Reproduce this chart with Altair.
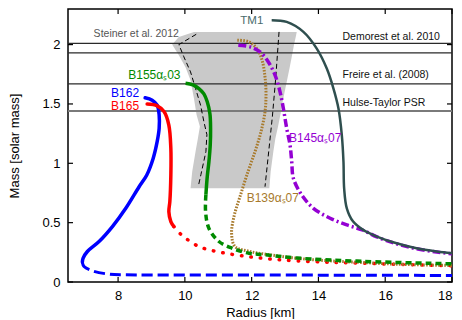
import altair as alt
import pandas as pd

FONT = "Liberation Sans"

# ---------------- data (radius km, mass solar) ----------------
tm1_r = [12.60, 13.05, 13.55, 13.95, 14.25, 14.45, 14.60, 14.70, 14.75, 14.77, 14.85, 15.04, 15.34, 15.75, 16.34, 16.94, 17.54, 18.0]
tm1_m = [2.205, 2.191, 2.107, 1.966, 1.798, 1.630, 1.462, 1.238, 1.013, 0.789, 0.621, 0.509, 0.439, 0.383, 0.326, 0.284, 0.257, 0.242]

b145_r = [11.60, 11.95, 12.25, 12.50, 12.70, 12.85, 12.95, 13.05, 13.15, 13.20, 13.25, 13.50, 13.85, 14.35, 14.85, 15.34, 15.75, 16.34, 16.94, 17.54, 18.0]
b145_m = [1.995, 1.981, 1.939, 1.854, 1.743, 1.602, 1.462, 1.294, 1.154, 1.013, 0.873, 0.733, 0.621, 0.537, 0.481, 0.436, 0.380, 0.322, 0.280, 0.253, 0.238]

b139_r = [11.57, 11.92, 12.16, 12.31, 12.40, 12.43, 12.40, 12.28, 12.10, 11.89, 11.65, 11.47, 11.40, 11.50, 11.95, 12.55, 13.35, 14.35, 15.34, 16.34, 18.0]
b139_m = [2.037, 2.023, 1.964, 1.871, 1.728, 1.577, 1.434, 1.266, 1.098, 0.929, 0.719, 0.551, 0.408, 0.299, 0.257, 0.229, 0.200, 0.178, 0.164, 0.150, 0.139]

b155_solid_r = [10.02, 10.24, 10.42, 10.57, 10.67, 10.75, 10.77, 10.76, 10.72, 10.67, 10.63]
b155_solid_m = [1.674, 1.661, 1.630, 1.585, 1.518, 1.417, 1.294, 1.154, 1.013, 0.887, 0.736]
b155_dash_r = [10.63, 10.62, 10.72, 11.02, 11.42, 11.92, 12.35, 13.35, 15.34, 18.0]
b155_dash_m = [0.736, 0.593, 0.452, 0.341, 0.284, 0.242, 0.231, 0.202, 0.174, 0.153]

b162_solid_r = [8.81, 9.02, 9.17, 9.23, 9.23, 9.17, 9.05, 8.86, 8.63, 8.23, 7.83, 7.43, 7.08, 6.95, 6.93]
b162_solid_m = [1.552, 1.532, 1.490, 1.406, 1.294, 1.182, 1.041, 0.902, 0.803, 0.621, 0.467, 0.341, 0.257, 0.200, 0.167]
b162_dash_r = [6.93, 6.98, 7.23, 7.73, 8.23, 12.22, 18.0]
b162_dash_m = [0.167, 0.130, 0.094, 0.066, 0.061, 0.059, 0.055]

b165_solid_r = [8.87, 9.17, 9.38, 9.52, 9.58, 9.58, 9.55, 9.52, 9.58, 9.67]
b165_solid_m = [1.499, 1.484, 1.434, 1.322, 1.125, 0.902, 0.677, 0.593, 0.509, 0.467]
b165_dot_r = [9.67, 9.88, 10.32, 10.62, 11.22, 12.12, 13.35, 15.34, 18.0]
b165_dot_m = [0.467, 0.402, 0.313, 0.279, 0.242, 0.206, 0.178, 0.158, 0.136]

# Steiner et al. 2012 band
steiner_m = [2.107, 2.065, 2.0, 1.91, 1.81, 1.70, 1.55, 1.41, 1.31, 1.21, 1.10, 0.93, 0.79]
steiner_lo = [10.27, 9.82, 9.62, 9.82, 10.02, 10.17, 10.27, 10.35, 10.45, 10.39, 10.32, 10.22, 10.17]
steiner_hi = [13.35, 13.32, 13.27, 13.21, 13.14, 13.06, 12.95, 12.86, 12.79, 12.71, 12.65, 12.57, 12.53]
steiner_left_r = [10.34, 9.82, 9.97, 10.17, 10.32, 10.47, 10.57, 10.66, 10.63, 10.48, 10.40]
steiner_left_m = [2.087, 2.000, 1.897, 1.770, 1.630, 1.490, 1.350, 1.241, 1.098, 0.904, 0.803]
steiner_right_r = [12.82, 12.72, 12.62, 12.40]
steiner_right_m = [2.107, 1.714, 1.392, 0.803]

# observational mass lines
obs_masses = [2.01, 1.93, 1.67]
hulse_mass = [1.4414]

# tick values
x_ticks = [8, 10, 12, 14, 16, 18]
y_ticks = [0, 0.5, 1, 1.5, 2]

# labels
obs_text = ["Demorest et al. 2010", "Freire et al. (2008)", "Hulse-Taylor PSR"]
obs_text_r = [14.72, 14.72, 14.72]
obs_text_m = [2.065, 1.743, 1.512]

# ---------------- chart ----------------
W, H = 384, 273
xs = alt.Scale(domain=[6.5, 18], nice=False, zero=False)
ys = alt.Scale(domain=[0, 2.3], nice=False, zero=False)
xaxis = alt.Axis(values=x_ticks, title="Radius [km]", ticks=False, tickSize=0, domain=False,
                 grid=False, labelPadding=7, titlePadding=4, format="d")
yaxis = alt.Axis(values=y_ticks, title="Mass [solar mass]", ticks=False, tickSize=0, domain=False,
                 grid=False, labelPadding=8, titlePadding=20, format="~g")
X = alt.X("r:Q", scale=xs, axis=xaxis)
Y = alt.Y("m:Q", scale=ys, axis=yaxis)


def line(r, m, color, width, dash=None, cap="butt", interp="catmull-rom"):
    df = pd.DataFrame({"r": r, "m": m, "i": list(range(len(r)))})
    kw = dict(color=color, strokeWidth=width, strokeCap=cap, strokeJoin="round", clip=True,
              interpolate=interp)
    if dash:
        kw["strokeDash"] = dash
    return alt.Chart(df).mark_line(**kw).encode(x=X, y=Y, order="i:Q")


def label(text, r, m, color, size, align):
    df = pd.DataFrame({"r": [r], "m": [m], "t": [text]})
    return alt.Chart(df).mark_text(color=color, fontSize=size, align=align, baseline="middle",
                                   font=FONT).encode(x=X, y=Y, text="t:N")


band_df = pd.DataFrame({"m": steiner_m, "r": steiner_lo, "hi": steiner_hi})
band = alt.Chart(band_df).mark_area(orient="horizontal", color="#c9c9c9", opacity=1).encode(
    y=Y, x=X, x2="hi:Q")

obs_lines = alt.Chart(pd.DataFrame({"m": obs_masses})).mark_rule(color="#2a2a2a", strokeWidth=1.3).encode(y=Y)
hulse_line = alt.Chart(pd.DataFrame({"m": hulse_mass})).mark_rule(color="#7a7a7a", strokeWidth=2).encode(y=Y)

obs_labels = alt.Chart(pd.DataFrame({"r": obs_text_r, "m": obs_text_m, "t": obs_text})).mark_text(
    color="#111", fontSize=10.5, align="left", baseline="middle", font=FONT).encode(x=X, y=Y, text="t:N")

xt = pd.DataFrame({"r": x_ticks})
yt = pd.DataFrame({"m": y_ticks})
tick_style = dict(color="black", strokeWidth=1.2)
ticks = [
    alt.Chart(xt).mark_rule(**tick_style).encode(x=X, y=alt.value(H), y2=alt.value(H - 5)),
    alt.Chart(xt).mark_rule(**tick_style).encode(x=X, y=alt.value(0), y2=alt.value(5)),
    alt.Chart(yt).mark_rule(**tick_style).encode(y=Y, x=alt.value(0), x2=alt.value(5)),
    alt.Chart(yt).mark_rule(**tick_style).encode(y=Y, x=alt.value(W), x2=alt.value(W - 5)),
]

BLUE, RED, GREEN, PURPLE, BROWN, TM = "#0000ff", "#ff0000", "#008a00", "#9400d3", "#a87a2c", "#2f4f4f"

layers = [
    band,
    obs_lines,
    hulse_line,
    line(steiner_left_r, steiner_left_m, "black", 1, dash=[5, 3], interp="linear"),
    line(steiner_right_r, steiner_right_m, "black", 1, dash=[5, 3], interp="linear"),
    line(b162_solid_r, b162_solid_m, BLUE, 3.5, cap="round"),
    line(b162_dash_r, b162_dash_m, BLUE, 3, dash=[11, 5]),
    line(b165_solid_r, b165_solid_m, RED, 3.5, cap="round"),
    line(b165_dot_r, b165_dot_m, RED, 3.5, dash=[0.5, 9], cap="round"),
    line(b139_r, b139_m, BROWN, 3, dash=[1.6, 1.4]),
    line(b155_solid_r, b155_solid_m, GREEN, 3.5),
    line(b155_dash_r, b155_dash_m, GREEN, 3.5, dash=[6, 4]),
    line(b145_r, b145_m, PURPLE, 3.5, dash=[8, 3, 2, 3]),
    line(tm1_r, tm1_m, TM, 2.5),
    obs_labels,
    label("Steiner et al. 2012", 9.82, 2.093, "#555555", 10.5, "right"),
    label("TM1", 12.35, 2.195, "#4a6b6b", 11.5, "right"),
    label("B155\u03b1\u209b03", 9.87, 1.748, GREEN, 12, "right"),
    label("B162", 8.63, 1.594, BLUE, 12, "right"),
    label("B165", 8.63, 1.484, RED, 12, "right"),
    label("B145\u03b1\u209b07", 13.12, 1.21, PURPLE, 12, "left"),
    label("B139\u03b1\u209b07", 11.85, 0.705, BROWN, 12, "left"),
] + ticks

chart = alt.layer(*layers).properties(
    width=W, height=H, padding=0, background="white"
).configure_view(
    stroke="black", strokeWidth=1.5
).configure_axis(
    labelFont=FONT, titleFont=FONT, labelFontSize=13, titleFontSize=13,
    labelColor="black", titleColor="black", titleFontWeight="normal"
)

chart.save("out.html", embed_options={"renderer": "svg", "actions": False})
